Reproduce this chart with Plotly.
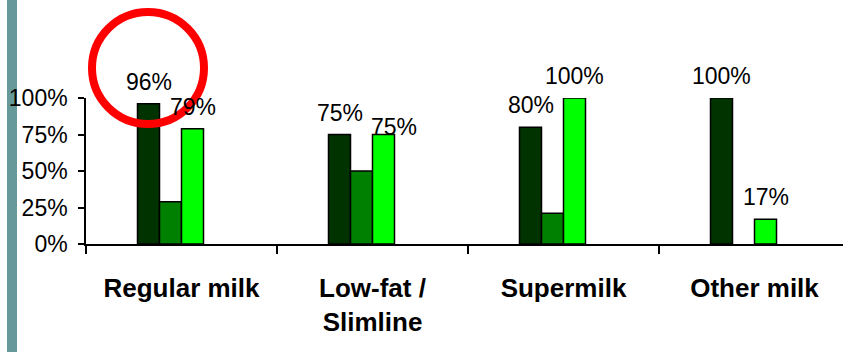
import plotly.graph_objects as go

# Milk types and the share for each of the three groups (fourth slot kept empty)
categories = ["Regular milk", "Low-fat /<br>Slimline", "Supermilk", "Other milk"]
series_dark = [96, 75, 80, 100]
series_mid = [29, 50, 21, None]
series_light = [79, 75, 100, 17]
series_blank = [None, None, None, None]
y_ticks = [0, 25, 50, 75, 100]
y_tick_labels = ["0%", "25%", "50%", "75%", "100%"]

W, H = 843, 352
M_L, M_R, M_T, M_B = 86, 0, 98, 108
PLOT_W = W - M_L - M_R
PLOT_H = H - M_T - M_B
CAT_PX = 191.0


def px_x(x):
    return (x - M_L) / PLOT_W


def px_y(y):
    return (H - M_B - y) / PLOT_H


FONT = "Liberation Sans, Arial, sans-serif"
colors = ["#003300", "#008000", "#00ff00", "#ffffff"]
all_series = [series_dark, series_mid, series_light, series_blank]

fig = go.Figure()
for vals, col in zip(all_series, colors):
    fig.add_trace(go.Bar(
        x=categories, y=vals,
        marker=dict(color=col, line=dict(color="#000000", width=1.5)),
        hoverinfo="skip", cliponaxis=False,
    ))

# value labels above the dark and light bars; one label sits lower and to the right
label_font = dict(family=FONT, size=23, color="#000000")
bar_px = 22
label_lift = 22
label_nudge = {(2, 1): (10, -14)}
for idx, vals in ((0, series_dark), (2, series_light)):
    for ci, v in enumerate(vals):
        if v is None:
            continue
        dx, dy = label_nudge.get((idx, ci), (0, 0))
        fig.add_annotation(
            x=categories[ci], y=v, xref="x", yref="y", text=f"{v}%", showarrow=False,
            xshift=(idx - 1.5) * bar_px + dx, yshift=label_lift + dy, yanchor="middle",
            font=label_font,
        )

fig.update_layout(
    width=W, height=H,
    margin=dict(l=M_L, r=M_R, t=M_T, b=M_B, autoexpand=False),
    paper_bgcolor="#ffffff", plot_bgcolor="rgba(0,0,0,0)",
    barmode="group", bargap=1 - 4 * bar_px / CAT_PX, bargroupgap=0,
    showlegend=False,
    font=dict(family=FONT, color="#000000"),
    xaxis=dict(
        type="category", range=[-0.5, -0.5 + PLOT_W / CAT_PX], automargin=False,
        tickson="boundaries", ticks="outside", ticklen=8, tickcolor="#000000", tickwidth=1.5,
        showline=True, linecolor="#000000", linewidth=1.5, showgrid=False, zeroline=False,
        tickfont=dict(family=FONT, size=26, color="#000000", weight="bold"),
        ticklabelstandoff=20,
    ),
    yaxis=dict(
        range=[0, 100], automargin=False,
        tickmode="array", tickvals=y_ticks, ticktext=y_tick_labels,
        ticks="outside", ticklen=6, tickcolor="#000000", tickwidth=1.5,
        showline=True, linecolor="#000000", linewidth=1.5, showgrid=False, zeroline=False,
        tickfont=dict(family=FONT, size=23, color="#000000"),
        ticklabelstandoff=6,
    ),
    shapes=[
        # teal stripe down the left edge of the slide
        dict(type="rect", xref="paper", yref="paper",
             x0=px_x(7), x1=px_x(17), y0=px_y(H), y1=px_y(0),
             fillcolor="#669999", line=dict(width=0), layer="below"),
        # red highlight ring around the regular-milk figure
        dict(type="circle", xref="paper", yref="paper",
             x0=px_x(92), x1=px_x(204), y0=px_y(124), y1=px_y(12),
             line=dict(color="#ff0000", width=8), layer="above"),
    ],
)

fig.write_html("out.html")
